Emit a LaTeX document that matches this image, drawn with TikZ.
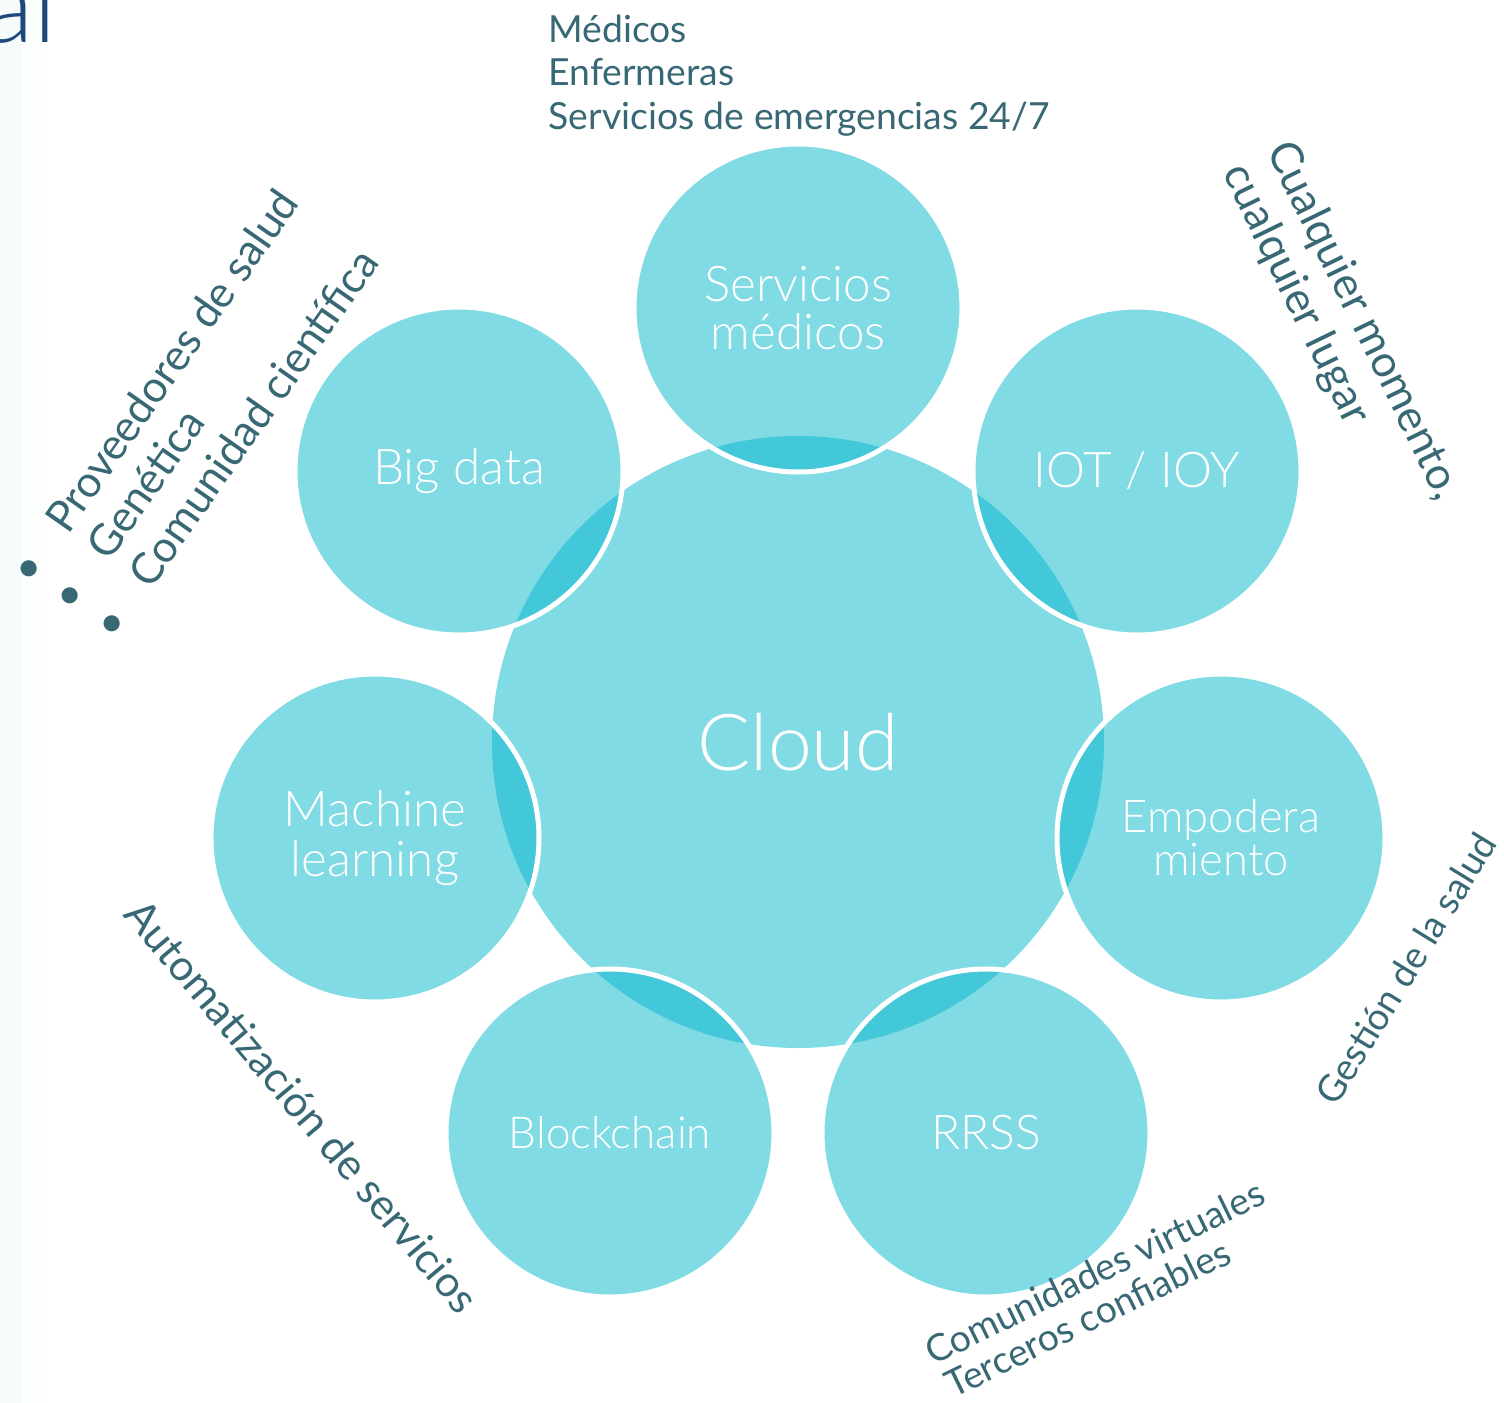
\documentclass[tikz,border=0pt]{standalone}
\usepackage{fontspec}
\setmainfont{Lato}
\newfontfamily\lightfont{Lato Light}

\definecolor{bubblefill}{RGB}{128,219,228}
\definecolor{overlapfill}{RGB}{66,200,216}
\definecolor{notetext}{RGB}{56,104,116}
\definecolor{titleblue}{RGB}{31,73,125}

\tikzset{every picture/.style={line width=0.75pt}}
\tikzset{
  bubble/.style={circle, fill=bubblefill, inner sep=0pt, minimum size=246pt, text=white, align=center, font=\lightfont\fontsize{37}{36}\selectfont},
  note/.style={text=notetext, inner sep=0pt, anchor=base west, font=\fontsize{28}{32}\selectfont},
  rim/.style={draw=white, line width=3.75pt},
}
\newcommand{\listdot}{\textbullet\hspace{28pt}}

\begin{document}
\begin{tikzpicture}[x=0.75pt,y=0.75pt,yscale=-1,xscale=1]
        \useasboundingbox (0,0) rectangle (1504,1403);

        %Shape: Rectangle (side strip)
        \fill [color={rgb, 255:red, 246; green, 251; blue, 251 }] (0,0) rectangle (22,1403);
        \fill [color={rgb, 255:red, 252; green, 253; blue, 253 }] (22,0) rectangle (46,1403);

        % Title remnant
        \node [anchor=base east, inner sep=0pt, text=titleblue, font=\lightfont\fontsize{80}{80}\selectfont] (title) at (58,42) {al};

        %Shape: Circle (centre)
        \node [bubble, minimum size=459pt, font=\lightfont\fontsize{59}{60}\selectfont] (cloud) at (798,742) {Cloud};

        %Shape: Circle (satellites)
        \node [bubble] (medicos) at (798,308) {Servicios\\médicos};
        \node [bubble] (bigdata) at (459,471) {Big data};
        \node [bubble] (iot) at (1137,471) {IOT / IOY};
        \node [bubble, font=\lightfont\fontsize{37}{37.5}\selectfont] (machine) at (375,838) {Machine\\learning};
        \node [bubble, font=\lightfont\fontsize{34}{32}\selectfont] (empodera) at (1221,838) {Empodera\\miento};
        \node [bubble, font=\lightfont\fontsize{33}{32}\selectfont] (blockchain) at (610,1133) {Blockchain};
        \node [bubble, font=\lightfont\fontsize{36}{36}\selectfont] (rrss) at (986,1133) {RRSS};

        %Overlaps with the centre
        \begin{scope}
        \clip (cloud.center) circle (306);
        \fill [overlapfill] (medicos.center) circle (164);
        \fill [overlapfill] (bigdata.center) circle (164);
        \fill [overlapfill] (iot.center) circle (164);
        \fill [overlapfill] (machine.center) circle (164);
        \fill [overlapfill] (empodera.center) circle (164);
        \fill [overlapfill] (blockchain.center) circle (164);
        \fill [overlapfill] (rrss.center) circle (164);
        \end{scope}

        %White rims
        \draw [rim] (medicos.center) circle (164);
        \draw [rim] (bigdata.center) circle (164);
        \draw [rim] (iot.center) circle (164);
        \draw [rim] (machine.center) circle (164);
        \draw [rim] (empodera.center) circle (164);
        \draw [rim] (blockchain.center) circle (164);
        \draw [rim] (rrss.center) circle (164);

        % Text Node
        \node [note] (medicoslist1) at (548,42) {Médicos};
        \node [note] (medicoslist2) at (548,85) {Enfermeras};
        \node [note] (medicoslist3) at (548,129) {Servicios de emergencias 24/7};
        % Text Node
        \node [note, rotate=55, font=\fontsize{32.5}{36}\selectfont] (bigdatalist1) at (32,587) {\listdot Proveedores de salud};
        \node [note, rotate=55, font=\fontsize{32.5}{36}\selectfont] (bigdatalist2) at (73,614) {\listdot Genética};
        \node [note, rotate=55, font=\fontsize{32.5}{36}\selectfont] (bigdatalist3) at (115,642) {\listdot Comunidad científica};
        % Text Node
        \node [note, rotate=-64, font=\fontsize{33}{36}\selectfont] (iotnote1) at (1266,150) {Cualquier momento,};
        \node [note, rotate=-64, font=\fontsize{33}{36}\selectfont] (iotnote2) at (1222,172) {cualquier lugar};
        % Text Node
        \node [note, rotate=58.5, font=\fontsize{28}{32}\selectfont] (empoderanote) at (1336,1108) {Gestión de la salud};
        % Text Node
        \node [note, rotate=-50, font=\fontsize{32}{34}\selectfont] (machinenote) at (122,915) {Automatización de servicios};
        % Text Node
        \node [note, rotate=26, font=\fontsize{28}{32}\selectfont] (rrssnote1) at (933,1366) {Comunidades virtuales};
        \node [note, rotate=26, font=\fontsize{28}{32}\selectfont] (rrssnote2) at (953,1399) {Terceros confiables};

\end{tikzpicture}
\end{document}
